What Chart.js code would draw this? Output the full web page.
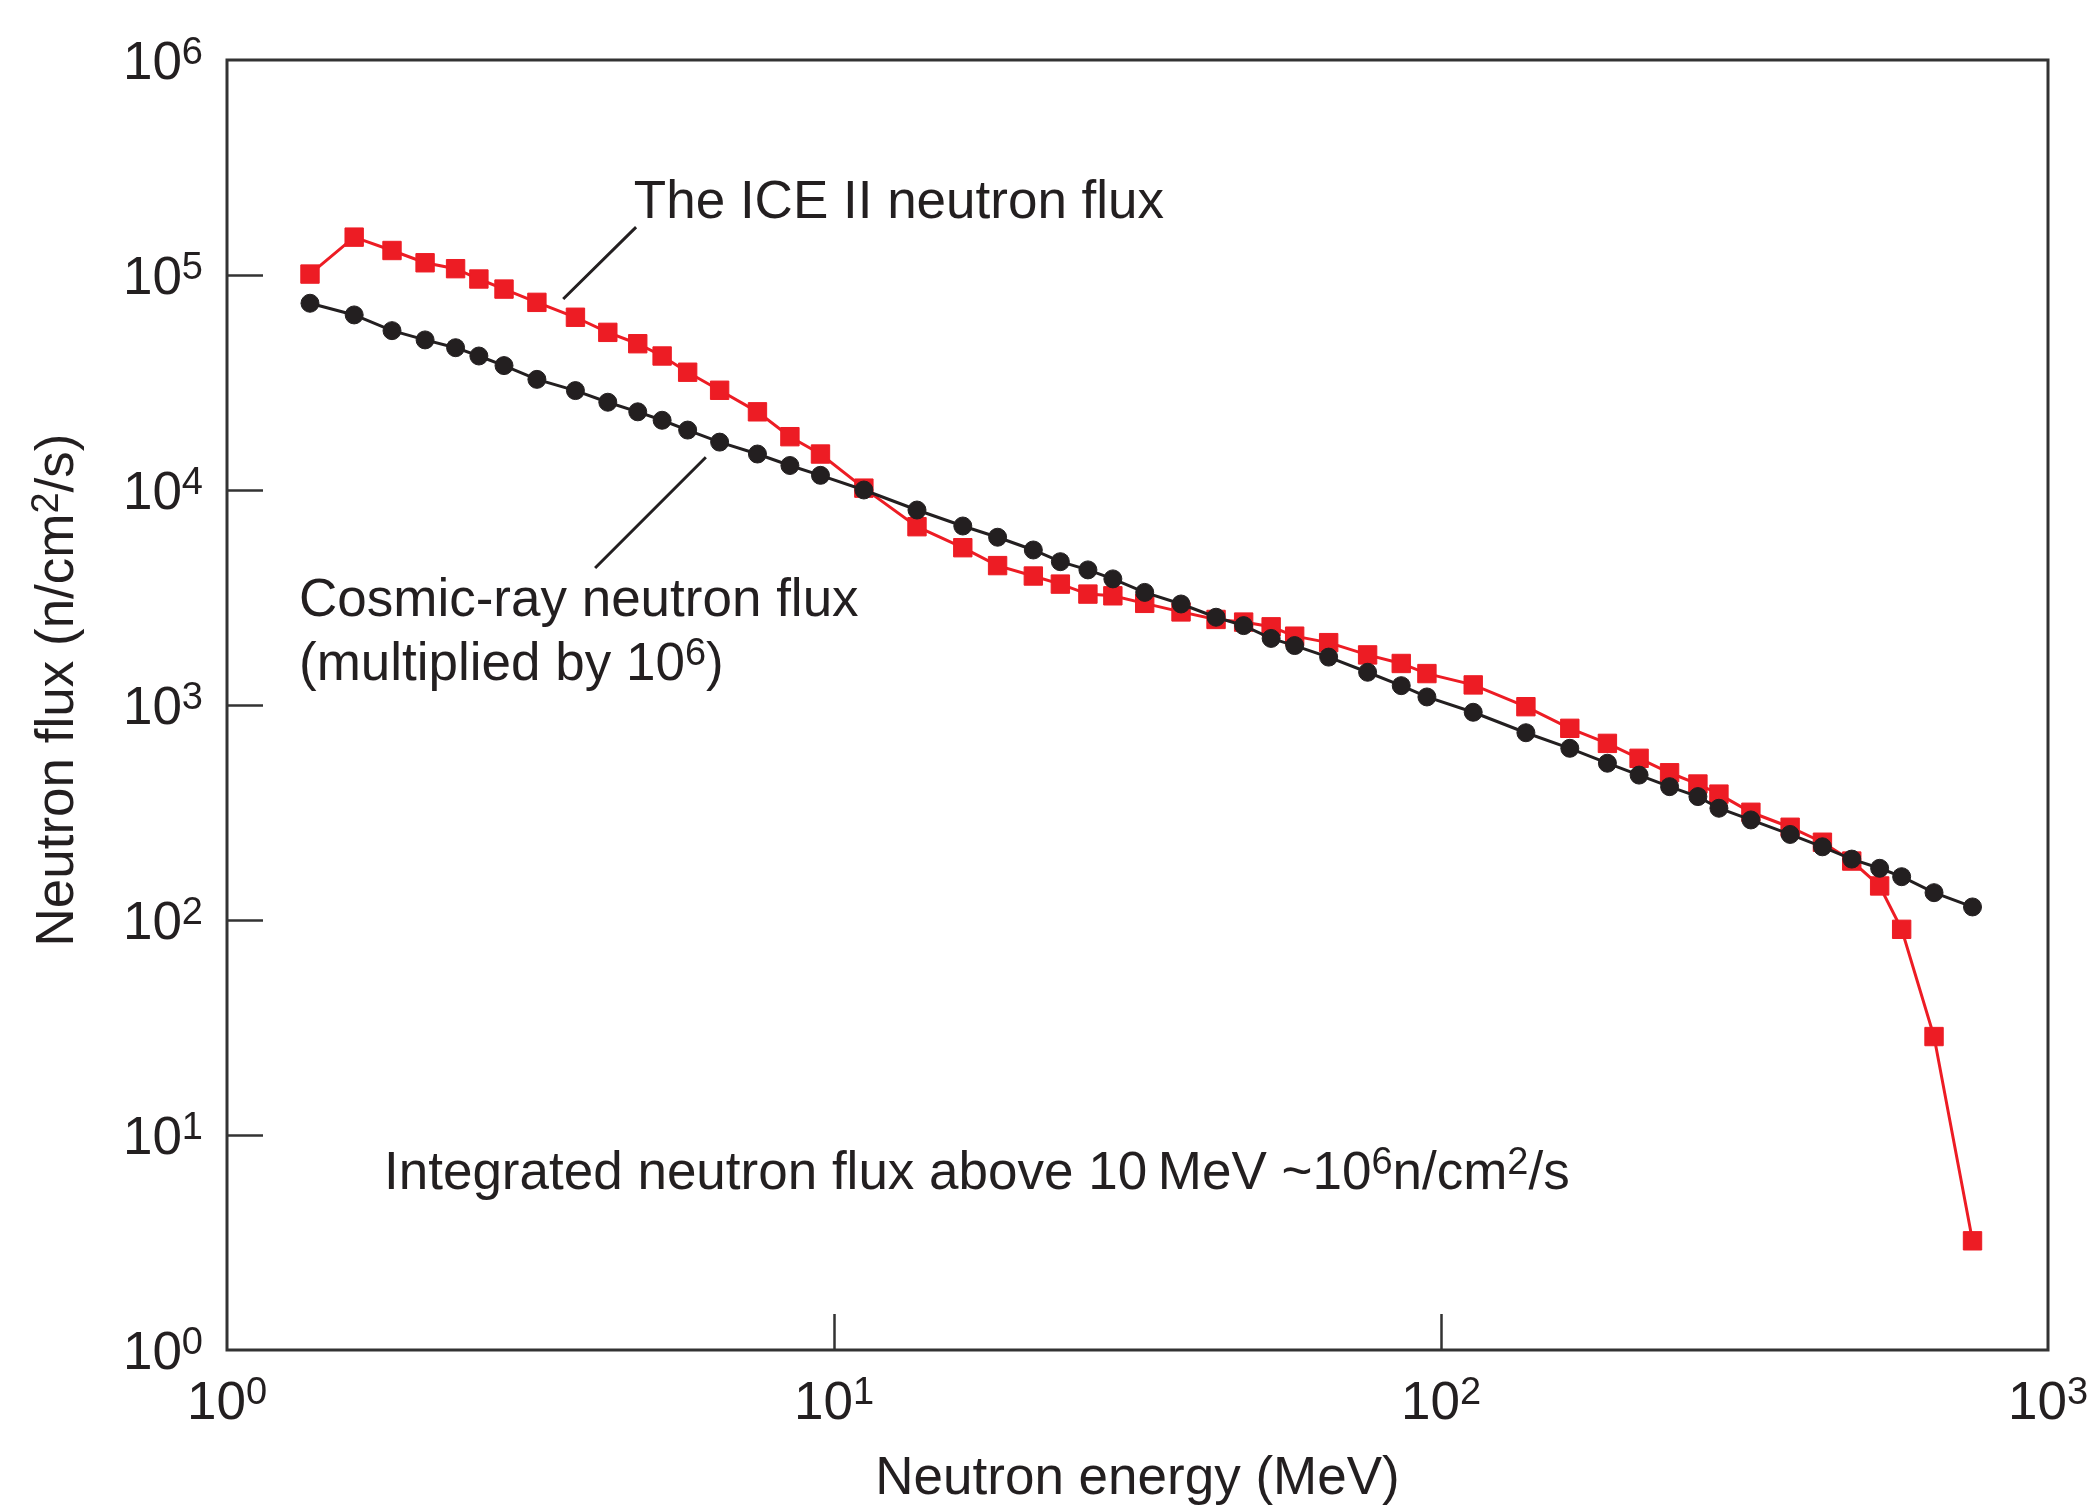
<!DOCTYPE html>
<html>
<head>
<meta charset="utf-8">
<script src="https://cdn.jsdelivr.net/npm/chart.js@4.4.0/dist/chart.umd.min.js"></script>
<style>
  html, body { margin: 0; padding: 0; background: #fff; }
  #wrap { width: 2096px; height: 1511px; }
</style>
</head>
<body>
<div id="wrap"><canvas id="fluxChart" width="2096" height="1511"></canvas></div>
<script>
// energies (MeV) shared by both curves
const energyMeV = [1.37, 1.62, 1.87, 2.12, 2.38, 2.60, 2.86, 3.24, 3.75, 4.24, 4.75, 5.21, 5.74, 6.48, 7.48, 8.46, 9.50,
  11.2, 13.7, 16.3, 18.6, 21.3, 23.6, 26.2, 28.8, 32.5, 37.3, 42.6, 47.3, 52.5, 57.4, 65.3, 75.7, 86.0, 94.8,
  113, 138, 163, 188, 212, 238, 265, 287, 324, 376, 425, 475, 528, 574, 649, 751];

// n/cm2/s
const iceFlux = [1.01e5, 1.50e5, 1.30e5, 1.14e5, 1.07e5, 9.58e4, 8.60e4, 7.46e4, 6.36e4, 5.41e4, 4.79e4, 4.20e4, 3.53e4,
  2.91e4, 2.31e4, 1.77e4, 1.47e4, 1.02e4, 6750, 5390, 4450, 3980, 3650, 3280, 3220, 2970, 2710, 2500, 2430, 2310,
  2090, 1950, 1710, 1560, 1400, 1240, 982, 779, 663, 565, 484, 429, 385, 317, 270, 230, 188, 144, 90.5, 28.7, 3.22];

// cosmic-ray flux x 1e6
const cosmicFlux = [73900, 65200, 55100, 49900, 45900, 42000, 37900, 32700, 29000, 25600, 23100, 21100, 19000, 16700,
  14700, 13000, 11700, 10000, 8070, 6800, 6030, 5260, 4640, 4250, 3860, 3340, 2950, 2560, 2340, 2040, 1890, 1670,
  1420, 1230, 1090, 925, 743, 629, 536, 472, 417, 375, 331, 292, 250, 219, 192, 174, 159, 134, 115];

const xTicks = [1, 10, 100, 1000];
const yTicks = [1, 10, 100, 1e3, 1e4, 1e5, 1e6];

const FONT = "'Liberation Sans', Arial, Helvetica, sans-serif";
const INK = '#231f20';
const RED = '#ed1c24';
const BASE_PX = 53;
const SUP_PX = 38;

// '10^{6}' -> [{t:'10'}, {t:'6', sup:true}]
function parseRich(str) {
  const parts = [];
  const re = /\^\{([^}]*)\}/g;
  let last = 0, m;
  while ((m = re.exec(str)) !== null) {
    if (m.index > last) parts.push({ t: str.slice(last, m.index) });
    parts.push({ t: m[1], sup: true });
    last = re.lastIndex;
  }
  if (last < str.length) parts.push({ t: str.slice(last) });
  return parts;
}

function drawRich(ctx, str, x, y, align) {
  const parts = parseRich(str);
  let w = 0;
  parts.forEach(p => {
    ctx.font = (p.sup ? SUP_PX : BASE_PX) + 'px ' + FONT;
    p.w = ctx.measureText(p.t).width;
    w += p.w;
  });
  let cx = align === 'center' ? x - w / 2 : align === 'right' ? x - w : x;
  ctx.textAlign = 'left';
  ctx.textBaseline = 'alphabetic';
  parts.forEach(p => {
    ctx.font = (p.sup ? SUP_PX : BASE_PX) + 'px ' + FONT;
    ctx.fillText(p.t, cx, p.sup ? y - 15 : y);
    cx += p.w;
  });
}

const pow10Label = v => '10^{' + Math.round(Math.log10(v)) + '}';

const frameAndLabels = {
  id: 'frameAndLabels',
  beforeDatasetsDraw(chart) {
    const { ctx, chartArea: a, scales: { x, y } } = chart;
    ctx.save();
    ctx.strokeStyle = '#333';
    ctx.lineWidth = 2.5;
    ctx.beginPath();
    yTicks.slice(1, -1).forEach(v => {
      const py = Math.round(y.getPixelForValue(v)) + 0.5;
      ctx.moveTo(a.left, py);
      ctx.lineTo(a.left + 36, py);
    });
    xTicks.slice(1, -1).forEach(v => {
      const px = Math.round(x.getPixelForValue(v)) + 0.5;
      ctx.moveTo(px, a.bottom);
      ctx.lineTo(px, a.bottom - 36);
    });
    ctx.stroke();
    ctx.lineWidth = 3;
    ctx.strokeRect(a.left, a.top, a.right - a.left, a.bottom - a.top);

    // leader lines
    ctx.strokeStyle = INK;
    ctx.lineWidth = 3;
    ctx.beginPath();
    ctx.moveTo(x.getPixelForValue(4.72), y.getPixelForValue(1.67e5));
    ctx.lineTo(x.getPixelForValue(3.58), y.getPixelForValue(7.73e4));
    ctx.moveTo(x.getPixelForValue(6.15), y.getPixelForValue(1.42e4));
    ctx.lineTo(x.getPixelForValue(4.04), y.getPixelForValue(4340));
    ctx.stroke();
    ctx.restore();
  },
  afterDraw(chart) {
    const { ctx, chartArea: a, scales: { x, y } } = chart;
    ctx.save();
    ctx.fillStyle = INK;

    yTicks.forEach(v => drawRich(ctx, pow10Label(v), 203, y.getPixelForValue(v) + 19, 'right'));
    xTicks.forEach(v => drawRich(ctx, pow10Label(v), x.getPixelForValue(v), a.bottom + 69, 'center'));

    drawRich(ctx, 'Neutron energy (MeV)', (a.left + a.right) / 2, 1494, 'center');

    ctx.save();
    ctx.translate(73, 690);
    ctx.rotate(-Math.PI / 2);
    drawRich(ctx, 'Neutron flux (n/cm^{2}/s)', 0, 0, 'center');
    ctx.restore();

    drawRich(ctx, 'The ICE II neutron flux', x.getPixelForValue(4.68), y.getPixelForValue(1.84e5), 'left');
    drawRich(ctx, 'Cosmic-ray neutron flux', x.getPixelForValue(1.314), y.getPixelForValue(2600), 'left');
    drawRich(ctx, '(multiplied by 10^{6})', x.getPixelForValue(1.314), y.getPixelForValue(1310), 'left');
    drawRich(ctx, 'Integrated neutron flux above 10\u2009MeV ~10^{6}n/cm^{2}/s',
      x.getPixelForValue(1.814), y.getPixelForValue(5.6), 'left');
    ctx.restore();
  },
};

const toPoints = vals => energyMeV.map((e, i) => ({ x: e, y: vals[i] }));

new Chart(document.getElementById('fluxChart'), {
  type: 'line',
  data: {
    datasets: [
      { label: 'Cosmic-ray neutron flux', data: toPoints(cosmicFlux), borderColor: INK, backgroundColor: INK,
        borderWidth: 3, pointStyle: 'circle', pointRadius: 9, pointBorderWidth: 1, tension: 0, order: 0 },
      { label: 'The ICE II neutron flux', data: toPoints(iceFlux), borderColor: RED, backgroundColor: RED,
        borderWidth: 3, pointStyle: 'rect', pointRadius: 13, pointBorderWidth: 1, tension: 0, order: 1 },
    ],
  },
  options: {
    responsive: false,
    animation: false,
    devicePixelRatio: 1,
    layout: { padding: { left: 227, top: 60, right: 48, bottom: 161 } },
    plugins: { legend: { display: false }, tooltip: { enabled: false } },
    scales: {
      x: { type: 'logarithmic', display: false, min: 1, max: 1000 },
      y: { type: 'logarithmic', display: false, min: 1, max: 1e6 },
    },
  },
  plugins: [frameAndLabels],
});
</script>
</body>
</html>
